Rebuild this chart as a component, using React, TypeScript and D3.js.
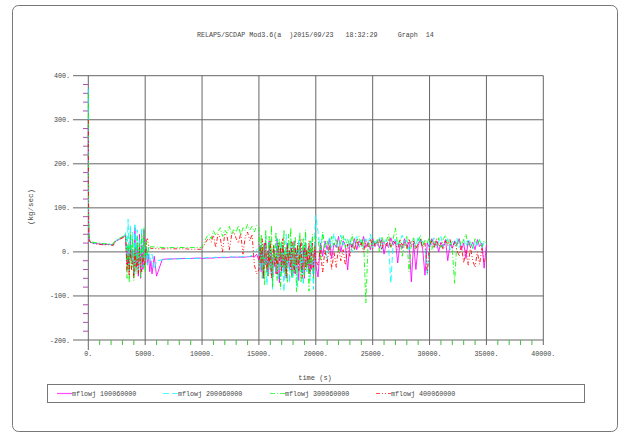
import React from 'react';
import * as d3 from 'd3';

const W = 619;
const H = 432;

const times = [
  0, 10, 30, 60, 100, 200, 400, 700, 1000, 1400, 1800, 2200, 2300, 2500, 2800, 3100, 3250,
  3300, 3400, 3500, 3600, 3700, 3800, 3900, 4000, 4100, 4200, 4300, 4400, 4500, 4600, 4700, 4800, 4900, 5000, 5100, 5200, 5300, 5400, 5500,
  5600, 5800, 6000, 6500, 7000, 7500, 8000, 8500, 9000, 9500, 9900,
  10000, 10200, 10400, 10600, 10800, 11000, 11200, 11400, 11600, 11800, 12000, 12200, 12400, 12600, 12800, 13000, 13200, 13400, 13600, 13800, 14000, 14200, 14400, 14600, 14800,
  15000, 15100, 15200, 15300, 15400, 15500, 15600, 15700, 15800, 15900, 16000, 16100, 16200, 16300, 16400, 16500, 16600, 16700, 16800, 16900,
  17000, 17100, 17200, 17300, 17400, 17500, 17600, 17700, 17800, 17900, 18000, 18100, 18200, 18300, 18400, 18500, 18600, 18700, 18800, 18900,
  19000, 19100, 19200, 19300, 19400, 19500, 19600, 19700, 19800, 19900, 20000,
  20200, 20400, 20600, 20800, 21000, 21200, 21400, 21600, 21800, 22000, 22200, 22400, 22600, 22800, 23000, 23200, 23400, 23600, 23800, 24000,
  24200, 24400, 24600, 24800, 25000, 25200, 25400, 25600, 25800, 26000, 26200, 26400, 26600, 26800, 27000, 27200, 27400, 27600, 27800, 28000,
  28200, 28400, 28600, 28800, 29000, 29200, 29400, 29600, 29800, 30000, 30200, 30400, 30600, 30800, 31000, 31200, 31400, 31600, 31800, 32000,
  32200, 32400, 32600, 32800, 33000, 33200, 33400, 33600, 33800, 34000, 34200, 34400, 34600, 34800, 35000,
];

const mflowj1 = [
  290, 150, 60, 35, 26, 22, 20, 19, 18, 17, 17, 16, 22, 26, 30, 34, 38,
  20, -30, 10, -45, 30, -20, 5, -50, 55, -35, 20, -55, 40, -60, 15, -40, 50, -25, 10, -30, -5, -45, -20,
  -50, -10, -55, -17, -16, -16, -15, -15, -15, -14, -14,
  -15, -15, -14, -14, -14, -14, -13, -13, -13, -13, -13, -13, -12, -12, -12, -12, -12, -12, -12, -12, -11, -11, -10, -12, -5,
  -20, 15, -45, 5, -60, 20, -30, -10, -55, 25, -40, 0, -65, 10, -25, -50, 30, -15, -70, 5,
  -35, 15, -45, -5, -60, 20, -20, -40, 10, -55, -10, 25, -50, 0, -30, -65, 15, -25, -45, 5,
  -60, 20, -35, -10, -50, 10, -40, -20, -55, 15, -30,
  -57, 20, -10, 25, 5, 30, -15, 20, 10, 35, 0, 25, 15, -41, 20, 10, 30, 5, 25, 15,
  35, 10, 22, 5, 30, 12, 25, 8, 28, -5, 20, 10, 32, 15, 25, -25, 18, 8, 30, 12,
  22, -68, 20, -40, 15, 28, 5, -53, 20, 10, 30, 15, 25, 0, 22, 12, 28, -20, 18, 8,
  25, 15, 30, 5, 20, -15, 25, 10, 22, 5, 28, 12, 20, -37, 15,
];

const mflowj2 = [
  370, 180, 70, 38, 27, 22, 20, 19, 18, 17, 17, 16, 22, 26, 30, 35, 40,
  45, -20, 74, -40, 60, -10, 45, -55, 65, -30, 50, -45, 30, -20, 55, -35, 20, -15, 5, -30, 10, -25, -12,
  -5, -40, -20, -18, -17, -16, -16, -15, -15, -15, -14,
  -14, -14, -13, -13, -13, -13, -12, -13, -12, -12, -12, -12, -12, -11, -12, -11, -11, -11, -11, -11, -11, -10, -8, -2, 4,
  10, -40, 20, -60, 0, -30, 35, -75, -10, 25, -50, 5, -85, 15, -20, -45, 30, -65, -5, 20,
  -55, 10, -90, -15, 40, -35, 0, -70, 25, -25, -60, 15, -40, 5, -80, 30, -10, -50, 20, -75,
  0, 35, -45, -20, 10, -65, 25, -30, -85, 40, 83,
  45, 5, 40, 15, -20, 35, 10, 42, 20, 5, 38, 15, 30, 10, 28, 0, 25, 35, 12, 28,
  8, 30, 18, 40, 10, 25, 15, 35, 5, 22, 30, 12, -71, 20, 32, 10, 25, 38, 15, 28,
  5, 22, 30, 12, 35, 18, 25, 10, -53, 28, 15, 32, 8, 25, 35, 12, 20, 30, 5, 25,
  15, 32, 10, 22, 28, 12, 30, 18, 8, 25, 15, 28, 10, 22, 18,
];

const mflowj3 = [
  360, 200, 80, 40, 28, 24, 22, 21, 20, 19, 18, 18, 24, 28, 32, 36, 40,
  35, -60, 20, -70, 45, -40, 30, -65, 10, -50, 35, -25, 20, -60, 40, -15, 56, -45, 25, -10, 15, 10, 12,
  12, 11, 11, 10, 10, 10, 10, 10, 10, 10, 10,
  12, 22, 34, 40, 30, 48, 38, 45, 55, 35, 50, 42, 58, 40, 52, 45, 60, 38, 55, 48, 62, 50, 58, 45, 60,
  55, -30, 40, -60, 20, -75, 50, -10, -55, 35, -40, 60, -80, 15, -20, 45, -65, 5, 30, -85,
  25, -35, 50, -50, 10, -70, 40, -15, 55, -60, 20, -45, 35, -90, 15, -25, 45, -70, 0, 30,
  -55, 50, -40, 10, -89, 25, -30, 40, -60, 20, 35,
  30, -20, 45, 10, 25, 5, 35, 15, 30, 0, 22, 38, 10, 28, 15, 40, 5, 25, 35, 12,
  30, -116, 20, 8, 32, 15, 28, 0, 35, 18, 25, 40, 10, 30, 54, 15, 28, -10, 22, 35,
  -45, 20, 32, 8, 25, 38, 12, 28, 20, 35, 5, 25, 15, 32, 10, 28, 38, 15, 25, 5,
  -71, 22, 30, 12, 28, 40, 15, 25, 8, 30, 18, 28, 12, 25, 20,
];

const mflowj4 = [
  300, 160, 65, 34, 25, 21, 19, 18, 17, 16, 16, 15, 21, 25, 29, 33, 36,
  30, -45, -10, -55, 5, -40, -20, -60, 0, -35, -15, -50, 10, -30, -45, -5, -35, -20, 26, 30, 15, 10, 8,
  8, 8, 7, 7, 7, 7, 7, 7, 6, 6, 6,
  8, 15, 26, 30, 22, 38, 10, 40, 32, 0, 42, 35, 5, 38, 45, 30, 20, 42, -5, 35, 45, 25, 40, -30, -50,
  -40, 10, -25, 30, -55, -10, 20, -45, 5, -30, 25, -60, -15, 15, -35, -5, -50, 20, -20, 10,
  -45, 30, -30, -10, -55, 15, -25, 5, -40, 25, -15, -50, 10, -35, 20, -45, -5, 30, -60, -20,
  15, -40, 5, -30, 25, -50, -10, 20, -35, 10, -20,
  -30, 10, -48, 5, -25, 15, -40, 0, -35, 12, -20, 5, -30, 18, -10, 20, 5, 28, 10, 22,
  0, 25, 12, 30, 8, 20, 15, 28, 5, 22, 12, 30, 10, 25, 18, 5, 28, 15, 22, 8,
  30, 12, 25, 5, 20, 28, 10, 22, -48, 15, 25, 8, 30, 12, 20, 5, 25, 15, 28, 10,
  22, 5, -10, 15, -25, 5, -30, 10, -20, -35, 0, -28, 8, -22, -15,
];

const seriesLabels = ['mflowj 100060000', 'mflowj 200060000', 'mflowj 300060000', 'mflowj 400060000'];
const seriesColors = ['#ff00ff', '#00ffff', '#00ff00', '#ff0000'];
const seriesDash = ['none', '6,3', '5,2,1,2', '4,2,1,2,1,2'];
const seriesValues = [mflowj1, mflowj2, mflowj3, mflowj4];

const xTicks = [0, 5000, 10000, 15000, 20000, 25000, 30000, 35000, 40000];
const yTicks = [-200, -100, 0, 100, 200, 300, 400];
const titleText = 'RELAP5/SCDAP Mod3.6(a  )2015/09/23   18:32:29     Graph  14';

const FONT = '"Liberation Mono", "DejaVu Sans Mono", monospace';
const TXT = '#444';
const GRID = '#666';

export default function App() {
  const x = d3.scaleLinear().domain([0, 40000]).range([88.3, 543.3]);
  const y = d3.scaleLinear().domain([-200, 400]).range([340, 75.7]);

  const xMinor = d3.range(1000, 40000, 1000).filter((v) => v % 5000 !== 0);
  const yMinor = d3.range(-180, 400, 20).filter((v) => v % 100 !== 0);

  const line = d3
    .line<number>()
    .x((_, i) => x(times[i]))
    .y((d) => y(d));

  const legendX = [57, 163, 270, 376];

  return (
    <svg width={W} height={H} style={{ position: 'absolute', left: 0, top: 0, background: '#fff' }}>
      <rect x={12.5} y={5.5} width={605} height={426} rx={6} fill="none" stroke="#777" strokeWidth={1} />

      {yTicks.map((t) => (
        <line key={'hy' + t} x1={73} x2={x(40000)} y1={y(t)} y2={y(t)} stroke={GRID} strokeWidth={1} />
      ))}
      {xTicks.map((t) => (
        <line key={'vx' + t} x1={x(t)} x2={x(t)} y1={y(400)} y2={t === 0 ? 350 : 345} stroke={GRID} strokeWidth={1} />
      ))}
      {yMinor.map((t) => (
        <line key={'my' + t} x1={83} x2={x(0)} y1={y(t)} y2={y(t)} stroke="#b050b0" strokeWidth={1} />
      ))}
      {xMinor.map((t) => (
        <line key={'mx' + t} x1={x(t)} x2={x(t)} y1={y(-200)} y2={y(-200) + 5} stroke="#40c040" strokeWidth={1} />
      ))}

      <g opacity={0.99}>
        <text x={197} y={36.5} fontFamily={FONT} fontSize={6.7} fill={TXT} style={{ whiteSpace: 'pre' }}>
          {titleText}
        </text>
        {yTicks.map((t) => (
          <text key={'ly' + t} x={70} y={y(t) + 2.5} textAnchor="end" fontFamily={FONT} fontSize={6.7} fill={TXT}>
            {t + '.'}
          </text>
        ))}
        {xTicks.map((t) => (
          <text key={'lx' + t} x={x(t)} y={356} textAnchor="middle" fontFamily={FONT} fontSize={6.7} fill={TXT}>
            {t + '.'}
          </text>
        ))}
        <text x={315} y={380} textAnchor="middle" fontFamily={FONT} fontSize={7} fill={TXT}>
          time (s)
        </text>
        <text
          transform={`translate(33, 207) rotate(-90)`}
          textAnchor="middle"
          fontFamily={FONT}
          fontSize={7.5}
          fill={TXT}
        >
          (kg/sec)
        </text>
      </g>

      {seriesValues.map((vals, k) => (
        <path
          key={'s' + k}
          d={line(vals) || ''}
          fill="none"
          stroke={seriesColors[k]}
          strokeWidth={1}
          strokeDasharray={seriesDash[k]}
          strokeOpacity={0.85}
        />
      ))}

      <rect x={47.5} y={384.5} width={537} height={18} fill="none" stroke="#777" strokeWidth={1} />
      {seriesLabels.map((lab, k) => (
        <g key={'lg' + k}>
          <path
            d={`M${legendX[k]},393.5H${legendX[k] + 15}`}
            fill="none"
            stroke={seriesColors[k]}
            strokeWidth={1.2}
            strokeOpacity={0.7}
            strokeDasharray={seriesDash[k]}
          />
          <g opacity={0.99}>
            <text x={legendX[k] + 15} y={396} fontFamily={FONT} fontSize={6.7} fill={TXT}>
              {lab}
            </text>
          </g>
        </g>
      ))}
    </svg>
  );
}
